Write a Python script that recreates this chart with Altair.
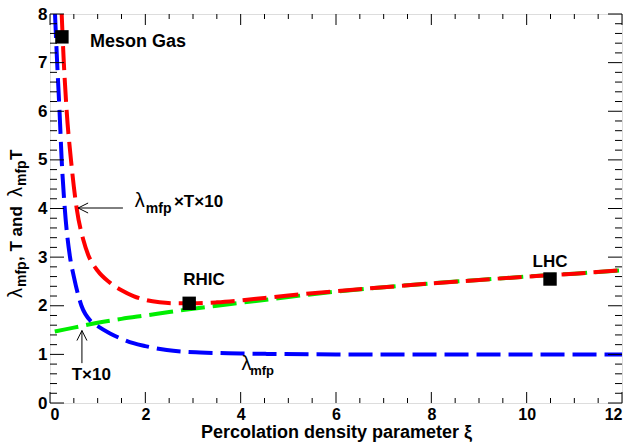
import altair as alt
import pandas as pd

# ---- data ----
blue_x = [0.105, 0.15, 0.2, 0.245, 0.31, 0.42, 0.5, 0.66, 0.87, 1.0, 1.26, 1.5, 1.75, 2.0, 2.45, 3.15, 4.0, 4.55, 6.0, 8.0, 10.0, 12.0]
blue_y = [8.0, 7.0, 6.0, 5.0, 4.0, 3.0, 2.6, 2.0, 1.67, 1.58, 1.43, 1.32, 1.23, 1.17, 1.09, 1.04, 1.02, 1.01, 1.0, 1.0, 1.0, 1.0]

red_x = [0.245, 0.29, 0.35, 0.44, 0.56, 0.7, 0.8, 1.0, 1.25, 1.5, 1.75, 2.0, 2.3, 2.6, 3.0, 3.5, 4.0, 4.5, 5.0, 6.0, 7.0, 8.0, 9.0, 10.0, 11.0, 12.0]
red_y = [8.0, 7.0, 6.0, 5.0, 4.0, 3.35, 3.05, 2.72, 2.48, 2.32, 2.2, 2.12, 2.07, 2.05, 2.05, 2.07, 2.11, 2.16, 2.21, 2.30, 2.38, 2.46, 2.53, 2.60, 2.66, 2.73]

green_x = [0.1, 0.5, 1.0, 1.5, 2.0, 2.5, 3.0, 3.5, 4.0, 5.0, 6.0, 7.0, 8.0, 9.0, 10.0, 11.0, 12.0]
green_y = [1.47, 1.55, 1.65, 1.73, 1.80, 1.87, 1.94, 2.0, 2.06, 2.18, 2.29, 2.38, 2.46, 2.53, 2.60, 2.66, 2.73]

pt_x = [0.25, 2.92, 10.49]
pt_y = [7.53, 2.05, 2.55]

x_major = [0, 2, 4, 6, 8, 10, 12]
x_minor = [0.5, 1, 1.5, 2.5, 3, 3.5, 4.5, 5, 5.5, 6.5, 7, 7.5, 8.5, 9, 9.5, 10.5, 11, 11.5]
y_major = [0, 1, 2, 3, 4, 5, 6, 7, 8]
y_minor = [v / 5 for v in range(1, 40) if v % 5 != 0]

W, H = 572, 389
FONT = "Liberation Sans"

xs = alt.Scale(domain=[0, 12], nice=False, zero=False)
ys = alt.Scale(domain=[0, 8], nice=False, zero=False)

x_axis = alt.Axis(values=x_major, domain=False, ticks=False, grid=False, labelPadding=3,
                  labelFont=FONT, labelFontSize=16, labelFontWeight="bold", labelColor="black",
                  title="Percolation density parameter ξ", titleFont=FONT, titleFontSize=18,
                  titleFontWeight="bold", titleColor="black", titleY=34, titleBaseline="alphabetic")
y_axis = alt.Axis(values=y_major, domain=False, ticks=False, grid=False, labelPadding=3,
                  labelFont=FONT, labelFontSize=17, labelFontWeight="bold", labelColor="black",
                  title=None)


def X(field):
    return alt.X(field, type="quantitative", scale=xs, axis=x_axis)


def Y(field):
    return alt.Y(field, type="quantitative", scale=ys, axis=y_axis)


def line(xv, yv, color):
    df = pd.DataFrame({"x": xv, "y": yv})
    return alt.Chart(df).mark_line(color=color, strokeWidth=4, strokeDash=[24, 8],
                                   interpolate="monotone", strokeCap="butt", clip=True).encode(
        x=X("x"), y=Y("y"), order="x:Q")


green = line(green_x, green_y, "#00ee00")
blue = line(blue_x, blue_y, "#0000ff")
red = line(red_x, red_y, "#ff0000")

squares = alt.Chart(pd.DataFrame({"x": pt_x, "y": pt_y})).mark_point(
    shape="square", filled=True, color="black", size=180, opacity=1).encode(x=X("x"), y=Y("y"))


# tick marks (inside, on all four sides)
def xticks(vals, length):
    df = pd.DataFrame({"x": vals})
    b = alt.Chart(df).mark_rule(color="black", strokeWidth=1).encode(
        x=X("x"), y=alt.value(H), y2=alt.value(H - length))
    t = alt.Chart(df).mark_rule(color="black", strokeWidth=1).encode(
        x=X("x"), y=alt.value(0), y2=alt.value(length))
    return [b, t]


def yticks(vals, length):
    df = pd.DataFrame({"y": vals})
    l = alt.Chart(df).mark_rule(color="black", strokeWidth=1).encode(
        y=Y("y"), x=alt.value(0), x2=alt.value(length))
    r = alt.Chart(df).mark_rule(color="black", strokeWidth=1).encode(
        y=Y("y"), x=alt.value(W), x2=alt.value(W - length))
    return [l, r]


ticks = xticks(x_major, 11) + xticks(x_minor, 5) + yticks(y_major, 14) + yticks(y_minor, 7)


# text annotations in data coordinates
def txt(x, y, s, size=17, weight="bold", align="left"):
    df = pd.DataFrame({"x": [x], "y": [y], "t": [s]})
    return alt.Chart(df).mark_text(font=FONT, fontSize=size, fontWeight=weight, align=align,
                                   baseline="alphabetic", color="black").encode(
        x=X("x"), y=Y("y"), text="t:N")


labels = [
    txt(0.84, 7.33, "Meson Gas", 18),
    txt(3.23, 2.43, "RHIC", 17, align="center"),
    txt(10.49, 2.80, "LHC", 17, align="center"),
    txt(0.455, 0.47, "T×10", 17),
    txt(4.02, 0.68, "λ", 20, "normal"),
    txt(4.2, 0.58, "mfp", 13),
    txt(1.78, 4.03, "λ", 20, "normal"),
    txt(2.01, 3.91, "mfp", 14),
    txt(2.6, 4.03, "×T×10", 17),
]

# arrows
arr_h = alt.Chart(pd.DataFrame({"x": [0.59], "x2": [1.53], "y": [4.01]})).mark_rule(
    color="black", strokeWidth=1).encode(x=X("x"), x2="x2", y=Y("y"))
arr_h_head = alt.Chart(pd.DataFrame({"x": [0.59], "y": [4.01]})).mark_point(
    shape="M 2 -1 L 0 0 L 2 1", filled=False, color="black", size=100, strokeWidth=1,
    opacity=1).encode(x=X("x"), y=Y("y"))
arr_v = alt.Chart(pd.DataFrame({"x": [0.67], "y": [1.49], "y2": [0.82]})).mark_rule(
    color="black", strokeWidth=1).encode(x=X("x"), y=Y("y"), y2="y2")
arr_v_head = alt.Chart(pd.DataFrame({"x": [0.67], "y": [1.49]})).mark_point(
    shape="M -1 2 L 0 0 L 1 2", filled=False, color="black", size=100, strokeWidth=1,
    opacity=1).encode(x=X("x"), y=Y("y"))


# rotated y-axis title built from pieces (pixel positions relative to plot)
def ytitle(px, py, s, size, weight):
    df = pd.DataFrame({"t": [s]})
    return alt.Chart(df).mark_text(font=FONT, fontSize=size, fontWeight=weight, angle=270,
                                   align="left", baseline="alphabetic", color="black").encode(
        x=alt.value(px), y=alt.value(py), text="t:N")


ytitle_parts = [
    ytitle(-28, 284, "λ", 20, "normal"),
    ytitle(-24, 273, "mfp", 14, "bold"),
    ytitle(-28, 247, ", T and", 17, "bold"),
    ytitle(-28, 183, "λ", 20, "normal"),
    ytitle(-24, 172, "mfp", 14, "bold"),
    ytitle(-28, 146, "T", 17, "bold"),
]

chart = alt.layer(
    green, blue, red, squares, *ticks, *labels, arr_h, arr_h_head, arr_v, arr_v_head, *ytitle_parts
).properties(
    width=W, height=H,
    autosize=alt.AutoSizeParams(type="none"),
    padding={"left": 50, "top": 14, "right": 8, "bottom": 41},
).configure_view(stroke="black", strokeWidth=2).configure(background="white")

chart.save("out.html", embed_options={"renderer": "svg", "actions": False})
